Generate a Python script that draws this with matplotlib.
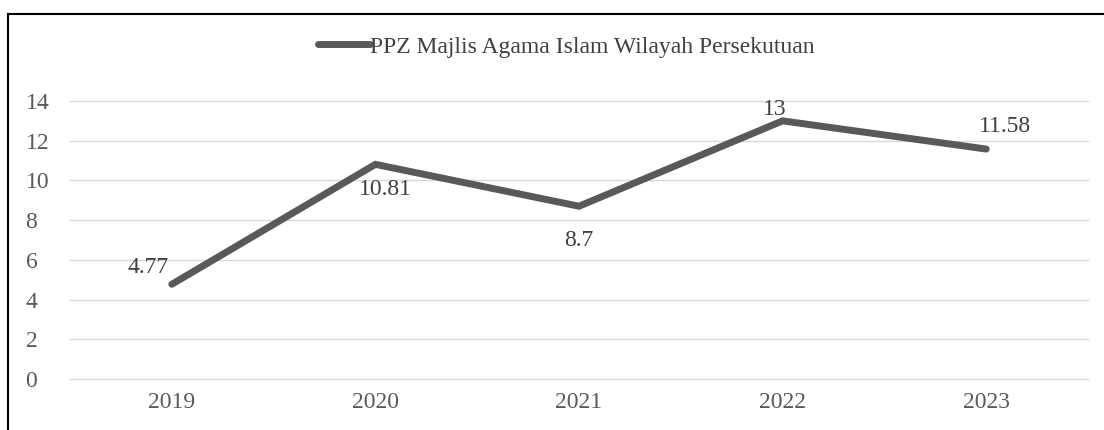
import matplotlib.pyplot as plt
from matplotlib.lines import Line2D

years = ['2019', '2020', '2021', '2022', '2023']
values = [4.77, 10.81, 8.7, 13, 11.58]
value_labels = ['4.77', '10.81', '8.7', '13', '11.58']
series_name = 'PPZ Majlis Agama Islam Wilayah Persekutuan'

# label offsets in pixels (dx, dy) relative to each point
offsets = [(-24, 17), (10, -25), (0, -34), (-8, 11), (19, 23)]

plt.rcParams['font.family'] = ['Liberation Serif', 'DejaVu Serif']
grey = '#595959'
fs = 17

fig = plt.figure(figsize=(11.04, 4.3), dpi=100)
ax = fig.add_axes([70 / 1104, 1 - 379 / 430, 1018 / 1104, 278 / 430])

x = list(range(len(years)))
ax.plot(x, values, color=grey, lw=5, solid_capstyle='round', solid_joinstyle='miter', zorder=3)

for xi, v, lab, (dx, dy) in zip(x, values, value_labels, offsets):
    ax.annotate(lab, (xi, v), xytext=(dx * 0.72, dy * 0.72), textcoords='offset points',
                ha='center', va='center', fontsize=fs, color='#404040')

ax.set_xlim(-0.5, len(years) - 0.5)
ax.set_ylim(0, 14)
ax.set_yticks(range(0, 15, 2))
ax.set_xticks(x)
ax.set_xticklabels(years)
ax.tick_params(length=0, labelsize=fs, labelcolor=grey, pad=9)
ax.tick_params(axis='y', pad=32)
for lbl in ax.get_yticklabels():
    lbl.set_horizontalalignment('left')
ax.grid(axis='y', color='#d9d9d9', lw=1)
for gl in ax.get_ygridlines():
    gl.set_clip_on(False)
ax.set_axisbelow(True)
for s in ax.spines.values():
    s.set_visible(False)

handle = Line2D([], [], color=grey, lw=5, solid_capstyle='round')
fig.legend([handle], [series_name], loc='center', bbox_to_anchor=(0.513, 1 - 47 / 430),
           frameon=False, fontsize=fs, handlelength=2.2, handletextpad=0.0,
           labelcolor='#404040')

# border (only top and left visible in the crop)
fig.add_artist(Line2D([8 / 1104, 8 / 1104], [0, 1 - 14 / 430], color='black', lw=1.5,
                      transform=fig.transFigure))
fig.add_artist(Line2D([8 / 1104, 1], [1 - 14 / 430, 1 - 14 / 430], color='black', lw=1.5,
                      transform=fig.transFigure))

fig.savefig('out.png', dpi=100, facecolor='white')
